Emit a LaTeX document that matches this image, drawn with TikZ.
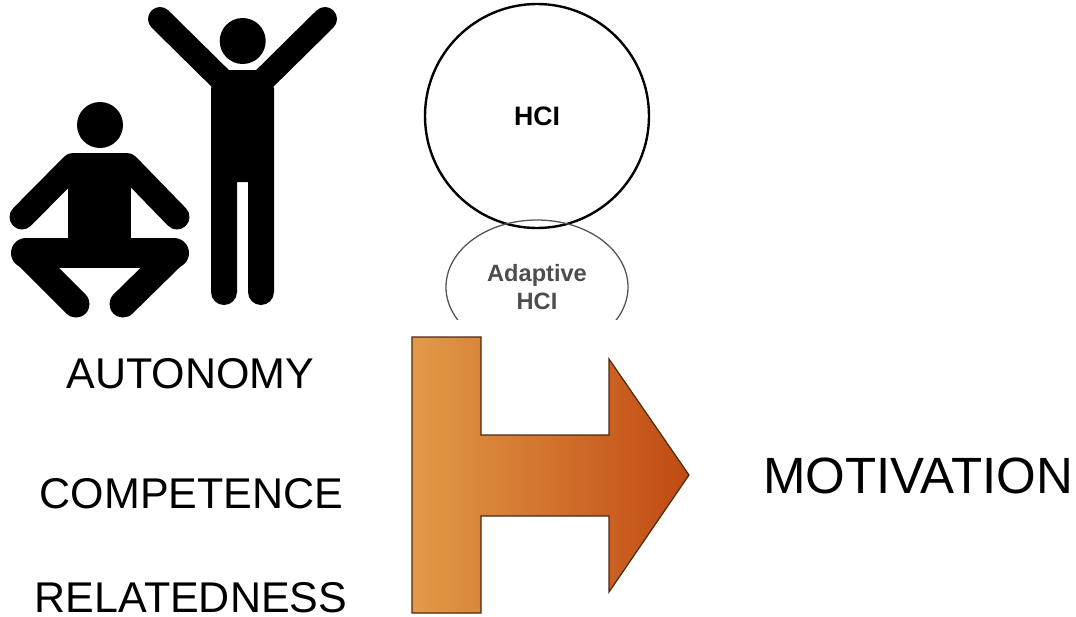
\documentclass[tikz,border=0pt]{standalone}
\usepackage{fontspec}
\setmainfont{Liberation Sans}
\usetikzlibrary{shapes.geometric}
\definecolor{grayline}{HTML}{555555}
\definecolor{graytext}{HTML}{4D4D4D}
\definecolor{arrowleft}{HTML}{E39A48}
\definecolor{arrowmid}{HTML}{D8752C}
\definecolor{arrowright}{HTML}{C04A12}
\definecolor{arrowline}{HTML}{4A2A12}
\tikzset{
    biglabel/.style={font=\fontsize{43}{50}\selectfont, inner sep=0pt, anchor=base},
    limb/.style={line width=#1, line cap=round, line join=round},
}

\begin{document}
\begin{tikzpicture}[x=1pt, y=-1pt]
    \useasboundingbox (0, 0) rectangle (1076, 616);
    % standing figure
    \fill (242.7, 41) circle[radius=23];
    \fill (225, 70) -- (260, 70) -- (274, 88) -- (274, 292) -- (248, 292) -- (248, 182) -- (237, 182) -- (237, 292) -- (211, 292) -- (211, 88) -- cycle;
    \draw [limb=24] (160, 19) -- (232, 90);
    \draw [limb=24] (325, 19) -- (253, 90);
    \draw [limb=26] (224, 180) -- (224, 292);
    \draw [limb=26] (261, 180) -- (261, 292);
    % sitting figure
    \fill (100, 125) circle[radius=23];
    \fill (68, 160) rectangle (131, 245);
    \draw [limb=25] (22, 217) -- (73, 165.5) -- (127, 165.5) -- (177, 217);
    \draw [limb=30] (26, 253) -- (174, 253);
    \draw [limb=27] (25, 253) -- (76, 304);
    \draw [limb=27] (175, 253) -- (123, 304);
    % circles
    \node [circle, draw, line width=2.4pt, minimum size=224pt, inner sep=0pt, font=\fontsize{26.7}{30}\bfseries\selectfont] (hci) at (537, 116) {HCI};
    \begin{scope}
        \clip (430, 210) rectangle (640, 319);
        \node [ellipse, draw=grayline, line width=1.3pt, minimum width=182pt, minimum height=134pt, inner sep=0pt] (adaptive) at (537, 287) {};
    \end{scope}
    \node [align=center, text=graytext, font=\fontsize{23.6}{28}\bfseries\selectfont] (adaptivelabel) at (537, 287) {Adaptive\\HCI};
    % labels
    \node [biglabel] (autonomy) at (190.5, 388) {AUTONOMY};
    \node [biglabel] (competence) at (191.5, 508) {COMPETENCE};
    \node [biglabel] (relatedness) at (191, 612) {RELATEDNESS};
    \node [biglabel, font=\fontsize{51}{55}\selectfont] (motivation) at (918, 493) {MOTIVATION};
    % arrow
    \draw [arrowline, line width=1.2pt, left color=arrowleft, middle color=arrowmid, right color=arrowright] (412, 337) -- (481, 337) -- (481, 435) -- (609, 435) -- (609, 359) -- (689, 475) -- (609, 592) -- (609, 516) -- (481, 516) -- (481, 613) -- (412, 613) -- cycle;
\end{tikzpicture}
\end{document}
